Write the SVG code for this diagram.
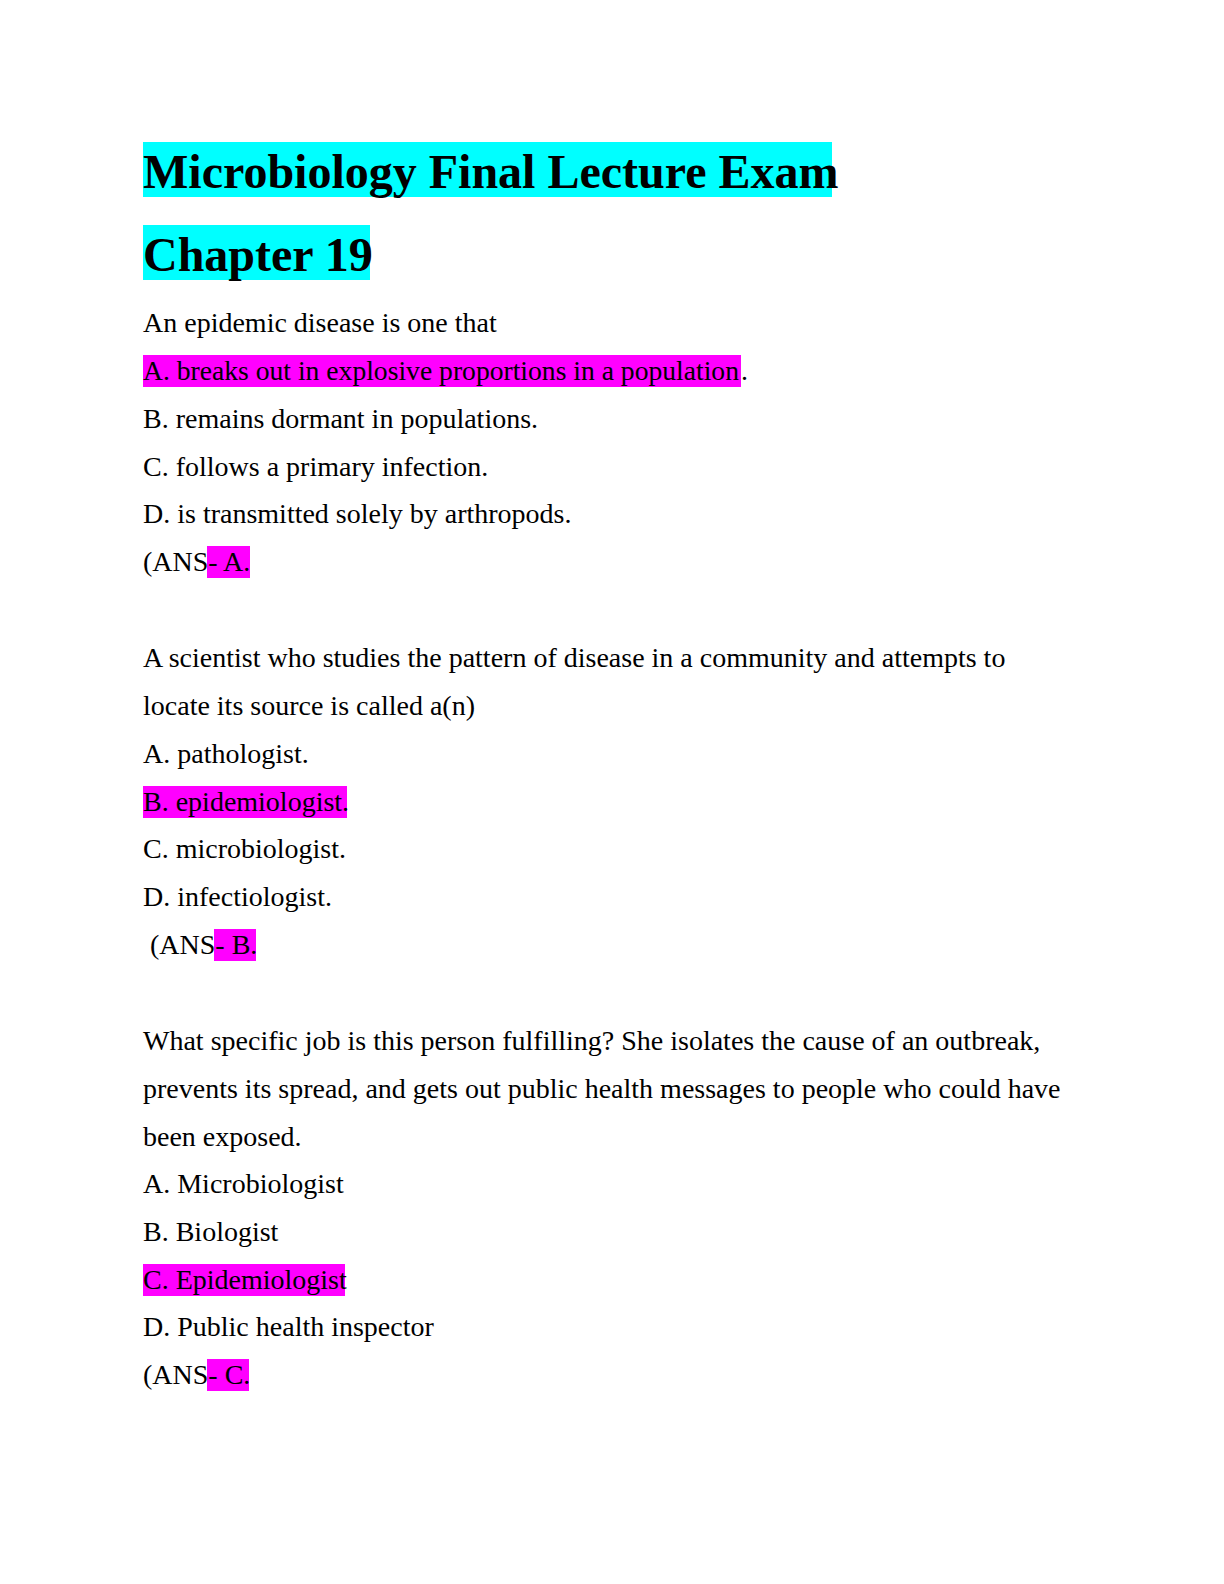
<svg xmlns="http://www.w3.org/2000/svg" width="1224" height="1584" viewBox="0 0 1224 1584">
<style>
.t{font-family:"Liberation Serif","Times New Roman",serif;font-size:48px;font-weight:bold;fill:#000}
.b{font-family:"Liberation Serif","Times New Roman",serif;font-size:28px;fill:#000}
.c{fill:#00ffff}.m{fill:#ff00ff}
</style>
<rect width="1224" height="1584" fill="#fff"/>
<rect class="c" x="143" y="142" width="689" height="55"/>
<rect class="c" x="143" y="225" width="227" height="55"/>
<text class="t" x="143" y="188">Microbiology Final Lecture Exam</text>
<text class="t" x="143" y="271">Chapter 19</text>
<rect class="m" x="143" y="355" width="598" height="32"/>
<rect class="m" x="207" y="546" width="43" height="32"/>
<rect class="m" x="143" y="786" width="204" height="32"/>
<rect class="m" x="214" y="929" width="42" height="32"/>
<rect class="m" x="143" y="1264" width="202" height="32"/>
<rect class="m" x="207" y="1359" width="42" height="32"/>
<g class="b">
<text x="143" y="332">An epidemic disease is one that</text>
<text x="143" y="380" textLength="596" lengthAdjust="spacingAndGlyphs">A. breaks out in explosive proportions in a population</text>
<text x="741" y="380">.</text>
<text x="143" y="428">B. remains dormant in populations.</text>
<text x="143" y="476">C. follows a primary infection.</text>
<text x="143" y="523">D. is transmitted solely by arthropods.</text>
<text x="143" y="571">(ANS- A.</text>
<text x="143" y="667">A scientist who studies the pattern of disease in a community and attempts to</text>
<text x="143" y="715">locate its source is called a(n)</text>
<text x="143" y="763">A. pathologist.</text>
<text x="143" y="811">B. epidemiologist.</text>
<text x="143" y="858">C. microbiologist.</text>
<text x="143" y="906">D. infectiologist.</text>
<text x="150" y="954">(ANS- B.</text>
<text x="143" y="1050">What specific job is this person fulfilling? She isolates the cause of an outbreak,</text>
<text x="143" y="1098">prevents its spread, and gets out public health messages to people who could have</text>
<text x="143" y="1146">been exposed.</text>
<text x="143" y="1193">A. Microbiologist</text>
<text x="143" y="1241">B. Biologist</text>
<text x="143" y="1289">C. Epidemiologist</text>
<text x="143" y="1336">D. Public health inspector</text>
<text x="143" y="1384">(ANS- C.</text>
</g>
</svg>
